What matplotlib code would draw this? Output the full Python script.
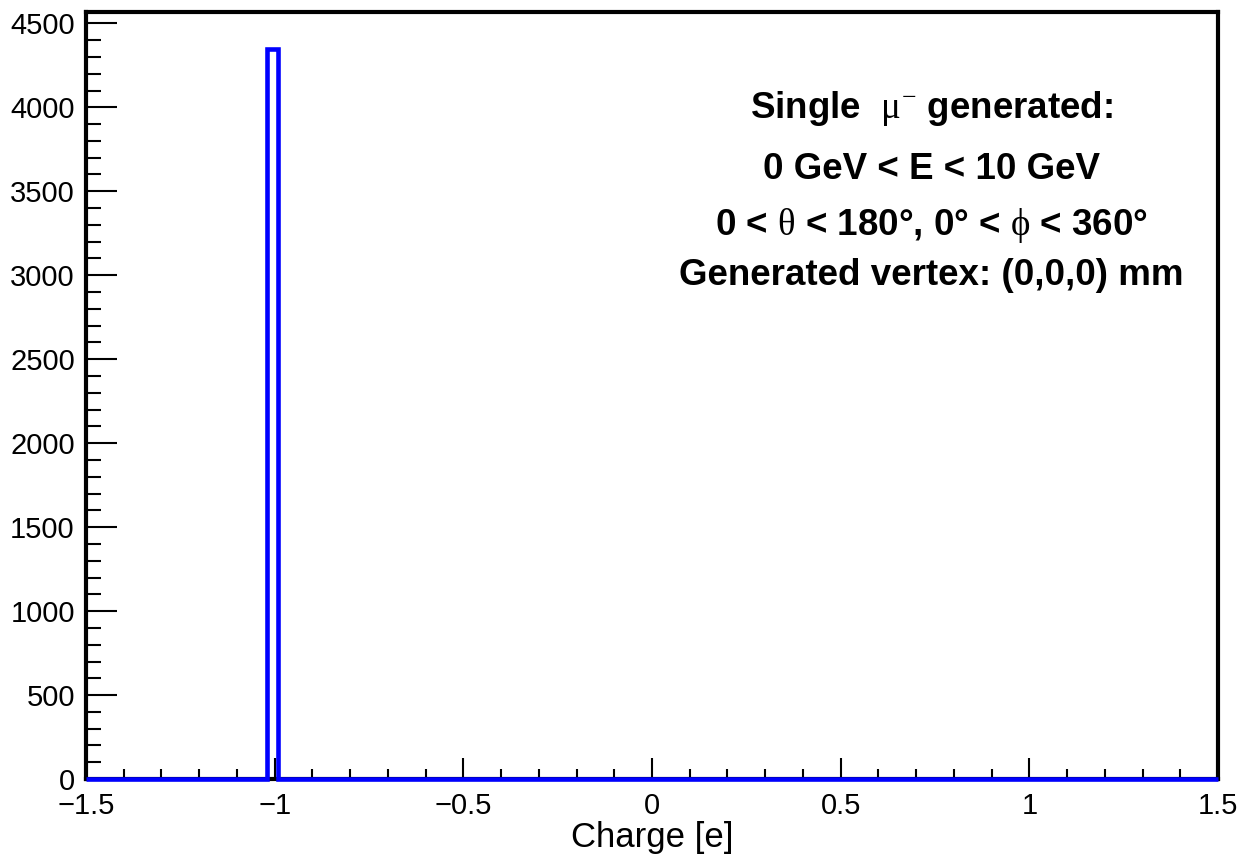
import numpy as np
import matplotlib
matplotlib.use('Agg')
import matplotlib.pyplot as plt
from matplotlib.ticker import MultipleLocator

plt.rcParams['font.family'] = ['Liberation Sans', 'DejaVu Sans']
plt.rcParams['mathtext.fontset'] = 'custom'
plt.rcParams['mathtext.rm'] = 'Liberation Serif'
plt.rcParams['mathtext.it'] = 'Liberation Serif'
plt.rcParams['mathtext.bf'] = 'Liberation Serif'

# histogram: 100 bins between -1.5 and 1.5, every entry has charge -1
charge_values = [-1.0]
charge_counts = [4350]
n_bins = 100
x_range = (-1.5, 1.5)

x_ticks = [-1.5, -1.0, -0.5, 0.0, 0.5, 1.0, 1.5]
x_ticklabels = ['\u22121.5', '\u22121', '\u22120.5', '0', '0.5', '1', '1.5']
y_ticks = [0, 500, 1000, 1500, 2000, 2500, 3000, 3500, 4000, 4500]

info_lines = [
    r'Single $\ \mu^{-}$ generated:',
    '0 GeV < E < 10 GeV',
    r'0 < $\theta$ < 180°, 0° < $\phi$ < 360°',
    'Generated vertex: (0,0,0) mm',
]
info_y = [0.862, 0.782, 0.709, 0.644]

fig = plt.figure(figsize=(12.42, 8.58), dpi=100)
ax = fig.add_axes([0.0692, 0.092, 0.9115, 0.894])

ax.hist(charge_values, bins=n_bins, range=x_range, weights=charge_counts,
        histtype='step', color='#0000ff', linewidth=3.3, clip_on=False, zorder=5)

ax.set_xlim(*x_range)
ax.set_ylim(0, max(charge_counts) * 1.05)

ax.set_xticks(x_ticks)
ax.set_xticklabels(x_ticklabels)
ax.set_yticks(y_ticks)
ax.xaxis.set_minor_locator(MultipleLocator(0.1))
ax.yaxis.set_minor_locator(MultipleLocator(100))

ax.tick_params(axis='both', which='both', direction='in', top=False, right=False,
               colors='black', labelsize=21, width=1.5)
ax.tick_params(axis='x', which='major', length=15, pad=9)
ax.tick_params(axis='x', which='minor', length=7)
ax.tick_params(axis='y', which='major', length=22, pad=8)
ax.tick_params(axis='y', which='minor', length=11)

for s in ax.spines.values():
    s.set_linewidth(3)
    s.set_color('black')

ax.set_xlabel('Charge [e]', fontsize=25, labelpad=1)

for line, yy in zip(info_lines, info_y):
    ax.text(0.7465, yy, line, transform=ax.transAxes, ha='center', va='baseline',
            fontsize=26.5, fontweight='bold')

fig.savefig('out.png', dpi=100)
